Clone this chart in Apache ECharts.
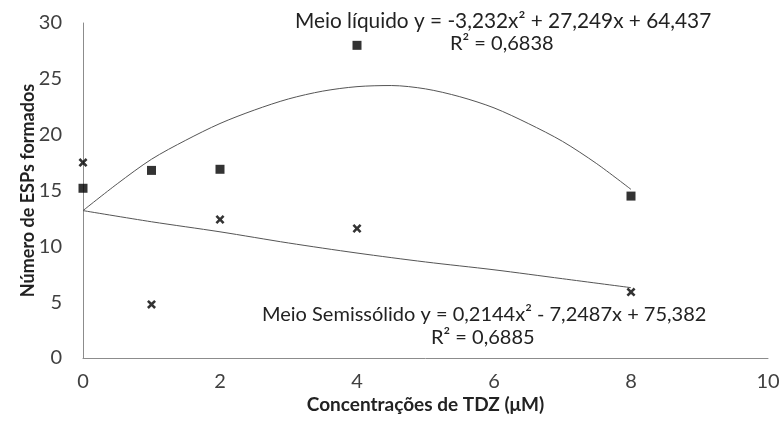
<!DOCTYPE html>
<html>
<head>
<meta charset="utf-8">
<script src="https://cdn.jsdelivr.net/npm/echarts@6/dist/echarts.min.js"></script>
<style>
html,body{margin:0;padding:0;background:#fff;}
#chart{width:783px;height:427px;}
</style>
</head>
<body>
<div id="chart"></div>
<script>
// Observed points
const liquidX = [0, 1, 2, 4, 8];
const liquidY = [15.2, 16.8, 16.9, 28.0, 14.5];
const semiX = [0, 1, 2, 4, 8];
const semiY = [17.5, 4.8, 12.4, 11.6, 5.9];
// Trend lines
const liquidTrendX = [0, 0.5, 1, 1.5, 2, 2.5, 3, 3.5, 4, 4.5, 5, 5.5, 6, 6.5, 7, 7.5, 8];
const liquidTrendY = [13.2, 15.6, 17.8, 19.5, 21.0, 22.2, 23.2, 23.9, 24.3, 24.4, 24.1, 23.4, 22.4, 21.0, 19.4, 17.4, 15.1];
const semiTrendX = [0, 1, 2, 3, 4, 5, 6, 7, 8];
const semiTrendY = [13.2, 12.2, 11.3, 10.3, 9.4, 8.6, 7.9, 7.1, 6.3];
// Axis ticks
const xTicks = [0, 2, 4, 6, 8, 10];
const yTicks = [0, 5, 10, 15, 20, 25, 30];
// Texts
const xTitle = 'Concentrações de TDZ (μM)';
const yTitle = 'Número de ESPs formados';
const liquidEq = 'Meio líquido y = -3,232x² + 27,249x + 64,437';
const liquidR2 = 'R² = 0,6838';
const semiEq = 'Meio Semissólido y = 0,2144x² - 7,2487x + 75,382';
const semiR2 = 'R² = 0,6885';

const zip = (a, b) => a.map((v, i) => [v, b[i]]);
const FONT = 'Lato';
const xMark = 'path://M0,2 L2,0 L5,3 L8,0 L10,2 L7,5 L10,8 L8,10 L5,7 L2,10 L0,8 L3,5 Z';

const chart = echarts.init(document.getElementById('chart'));
chart.setOption({
  backgroundColor: '#fff',
  animation: false,
  textStyle: {fontFamily: FONT},
  grid: {left: 83, right: 15, top: 23, bottom: 69},
  xAxis: {
    type: 'value', min: xTicks[0], max: xTicks[xTicks.length - 1], interval: 2,
    axisLine: {show: true, lineStyle: {color: '#8c8c8c', width: 1}},
    axisTick: {show: false},
    splitLine: {show: false},
    axisLabel: {fontSize: 20, color: '#404040', margin: 14, fontFamily: FONT},
    name: xTitle, nameLocation: 'middle', nameGap: 37, nameMoveOverlap: false,
    nameTextStyle: {fontSize: 19, fontWeight: 'bold', color: '#222', fontFamily: FONT}
  },
  yAxis: {
    type: 'value', min: yTicks[0], max: yTicks[yTicks.length - 1], interval: 5,
    axisLine: {show: true, lineStyle: {color: '#8c8c8c', width: 1}},
    axisTick: {show: false},
    splitLine: {show: false},
    axisLabel: {fontSize: 20, color: '#404040', margin: 21, fontFamily: FONT},
    name: yTitle, nameLocation: 'middle', nameGap: 46, nameRotate: 90, nameMoveOverlap: false,
    nameTextStyle: {fontSize: 18, fontWeight: 'bold', color: '#222', fontFamily: FONT}
  },
  graphic: [
    {type: 'text', left: 295, top: 11, style: {text: liquidEq, font: '20.8px ' + FONT, fill: '#222'}},
    {type: 'text', left: 450, top: 34, style: {text: liquidR2, font: '20px ' + FONT, fill: '#222'}},
    {type: 'text', left: 262, top: 305, style: {text: semiEq, font: '20px ' + FONT, fill: '#222'}},
    {type: 'text', left: 431, top: 328, style: {text: semiR2, font: '20px ' + FONT, fill: '#222'}}
  ],
  series: [
    {
      name: 'Meio líquido trend', type: 'line', data: zip(liquidTrendX, liquidTrendY),
      smooth: 0.3, showSymbol: false, lineStyle: {color: '#555', width: 1}, z: 1, silent: true
    },
    {
      name: 'Meio Semissólido trend', type: 'line', data: zip(semiTrendX, semiTrendY),
      smooth: 0.3, showSymbol: false, lineStyle: {color: '#555', width: 1}, z: 1, silent: true
    },
    {
      name: 'Meio líquido', type: 'scatter', data: zip(liquidX, liquidY),
      symbol: 'rect', symbolSize: 9, itemStyle: {color: '#000'}, z: 3
    },
    {
      name: 'Meio Semissólido', type: 'scatter', data: zip(semiX, semiY),
      symbol: xMark, symbolSize: 9, itemStyle: {color: '#000'}, z: 3
    }
  ]
});
</script>
</body>
</html>
